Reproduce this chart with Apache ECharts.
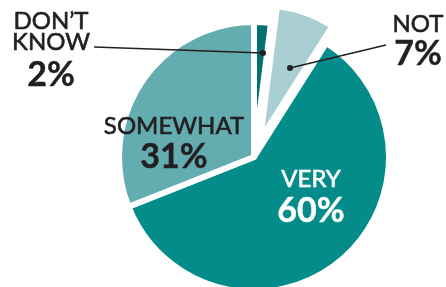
<!DOCTYPE html>
<html lang="en">
<head>
    <meta charset="UTF-8">
    <title>pie</title>
    <script src="https://cdn.jsdelivr.net/npm/echarts@6/dist/echarts.min.js"></script>
    <style>
        html, body {margin: 0; padding: 0; background: #fff;}
        #main {width: 446px; height: 287px;}
    </style>
</head>
<body>
<div id="main"></div>
<script>
    // clockwise from 12 o'clock
    let names = ['DON\u2019T\nKNOW', 'NOT', 'VERY', 'SOMEWHAT']
    let values = [2, 7, 60, 31]
    let colors = ['#00716e', '#a9cfd3', '#038c8a', '#63acaf']
    let exploded = [false, true, false, false]

    // label: centre x, middle y of first line, middle y of the percent line
    let labelAt = [[51, 21, 75], [418, 24, 54], [311, 179, 211], [174, 126, 157]]
    let textColor = ['#231f20', '#231f20', '#ffffff', '#231f20']
    // leader lines: [text end, dot on slice]
    let leaders = [[[94, 47], [263, 53]], [[386, 45], [290, 68]], null, null]

    let myChart = echarts.init(document.getElementById('main'))

    let graphics = []
    names.forEach((nm, i) => {
        let a = labelAt[i]
        nm.split('\n').forEach((line, k) => {
            graphics.push({
                type: 'text', z: 100,
                style: {
                    text: line, x: a[0], y: a[1] + k * 21.5,
                    align: 'center', verticalAlign: 'middle',
                    fill: textColor[i], font: '24px Lato',
                    stroke: textColor[i], lineWidth: 0.6
                }
            })
        })
        graphics.push({
            type: 'text', z: 100,
            style: {
                text: values[i] + '%', x: a[0], y: a[2],
                align: 'center', verticalAlign: 'middle',
                fill: textColor[i], font: 'bold 34px Lato',
                stroke: textColor[i], lineWidth: 0.4
            }
        })
    })
    leaders.forEach(l => {
        if (!l) return
        graphics.push({
            type: 'polyline', z: 100,
            shape: {points: l},
            style: {stroke: '#231f20', lineWidth: 1.5, fill: null}
        })
        graphics.push({
            type: 'circle', z: 100,
            shape: {cx: l[1][0], cy: l[1][1], r: 3},
            style: {fill: '#231f20'}
        })
    })

    let option = {
        animation: false,
        graphic: graphics,
        series: [{
            type: 'pie',
            center: [254, 157],
            radius: 135,
            startAngle: 90,
            clockwise: true,
            selectedMode: 'multiple',
            selectedOffset: 18,
            emphasis: {disabled: true},
            itemStyle: {borderColor: '#fff', borderWidth: 6},
            label: {show: false},
            labelLine: {show: false},
            data: values.map((v, i) => ({
                value: v,
                name: names[i],
                selected: exploded[i],
                itemStyle: {color: colors[i]}
            }))
        }]
    }
    myChart.setOption(option)
</script>
</body>
</html>
